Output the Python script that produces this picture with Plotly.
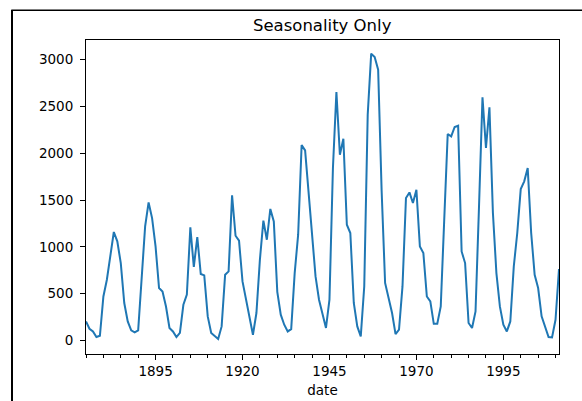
import plotly.graph_objects as go

years = list(range(1875, 2012))
values = [
    203, 125, 96, 36, 50, 470, 649, 934, 1159, 1059,      # 1875-1884
    827, 400, 203, 107, 86, 107, 649, 1219, 1475, 1308,   # 1885-1894
    1005, 560, 524, 363, 133, 96, 36, 82, 381, 490,       # 1895-1904
    1208, 785, 1105, 710, 695, 257, 79, 43, 15, 150,      # 1905-1914
    702, 738, 1550, 1119, 1066, 631, 435, 257, 61, 293,   # 1915-1924
    863, 1280, 1076, 1405, 1272, 520, 275, 168, 96, 121,  # 1925-1934
    720, 1130, 2089, 2031, 1593, 1076, 684, 435, 293, 133,  # 1935-1944
    435, 1843, 2655, 1985, 2156, 1237, 1148, 400, 150, 43,  # 1945-1954
    577, 2413, 3065, 3030, 2894, 1600, 614, 453, 293, 68,   # 1955-1964
    115, 577, 1522, 1582, 1469, 1611, 1005, 934, 470, 417,  # 1965-1974
    178, 178, 363, 1290, 2206, 2181, 2281, 2295, 951, 827,  # 1975-1984
    186, 133, 310, 1432, 2598, 2057, 2491, 1362, 720, 363,  # 1985-1994
    168, 96, 203, 791, 1148, 1618, 1700, 1843, 1148, 702,   # 1995-2004
    560, 257, 150, 36, 32, 221, 763,                        # 2005-2011
]

title_text = "Seasonality Only"
x_label = "date"

fig = go.Figure()
fig.add_trace(go.Scatter(x=years, y=values, mode="lines",
                         line=dict(color="#1f77b4", width=2), showlegend=False))

L, R, T, B = 85.7, 23.3, 40.3, 46.7
W, H = 582, 401
pw, ph = W - L - R, H - T - B

def px_to_paper_x(px):
    return (px - L) / pw

def px_to_paper_y(py):
    return (H - B - py) / ph

fig.update_layout(
    width=W, height=H,
    margin=dict(l=L, r=R, t=T, b=B, pad=0, autoexpand=False),
    paper_bgcolor="white", plot_bgcolor="white",
    font=dict(family="DejaVu Sans", size=13.5, color="black"),
    title=dict(text=title_text, x=(L + pw / 2) / W, xanchor="center",
               y=1 - 25 / H, yanchor="middle", font=dict(size=16.5, color="black")),
    xaxis=dict(range=[1875, 2011], tickmode="linear", tick0=1895, dtick=25,
               ticks="outside", ticklen=5, tickwidth=1, tickcolor="black",
               ticklabelstandoff=0, automargin=False,
               showline=True, linecolor="black", linewidth=1, mirror=True,
               showgrid=False, zeroline=False,
               minor=dict(tickmode="linear", tick0=1875, dtick=5, ticks="outside",
                          ticklen=3, tickwidth=1, tickcolor="black", showgrid=False),
               title=dict(text=x_label, standoff=7, font=dict(size=13.5))),
    yaxis=dict(range=[-145, 3211], tickmode="array",
               tickvals=[0, 500, 1000, 1500, 2000, 2500, 3000],
               ticks="outside", ticklen=5, tickwidth=1, tickcolor="black",
               ticklabelstandoff=4, automargin=False,
               showline=True, linecolor="black", linewidth=1, mirror=True,
               showgrid=False, zeroline=False),
)

# outer figure frame (left and top edges)
fig.add_shape(type="line", xref="paper", yref="paper",
              x0=px_to_paper_x(11.7), x1=px_to_paper_x(11.7),
              y0=px_to_paper_y(10.3), y1=px_to_paper_y(410),
              line=dict(color="black", width=2))
fig.add_shape(type="line", xref="paper", yref="paper",
              x0=px_to_paper_x(11), x1=px_to_paper_x(600),
              y0=px_to_paper_y(10.5), y1=px_to_paper_y(10.5),
              line=dict(color="black", width=1.5))

fig.write_html("out.html")
